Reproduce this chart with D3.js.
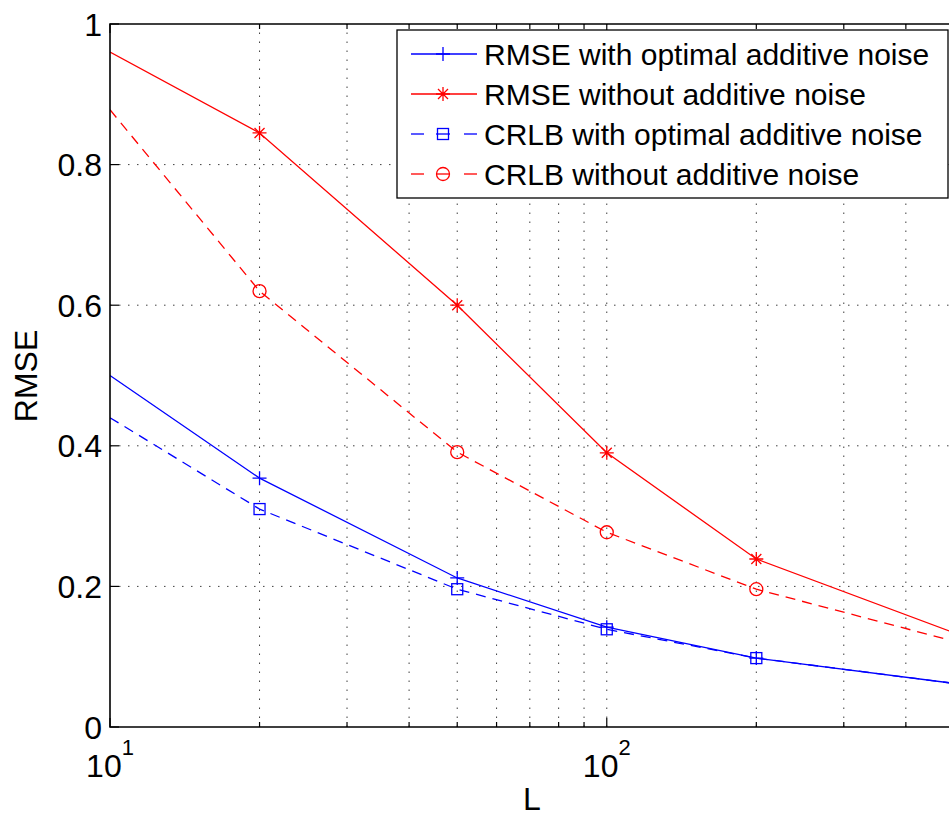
<!DOCTYPE html>
<html>
<head>
<meta charset="utf-8">
<script src="https://cdn.jsdelivr.net/npm/d3@7/dist/d3.min.js"></script>
<style>
  body { margin: 0; background: #fff; }
  svg { display: block; font-family: "Liberation Sans", Arial, sans-serif; }
</style>
</head>
<body>
<svg id="chart" width="949" height="817"></svg>
<script>
// 数据
const L = [10, 20, 50, 100, 200, 500];
const rmseOpt = [0.500, 0.354, 0.212, 0.142, 0.098, 0.062];
const rmseNo = [0.960, 0.845, 0.600, 0.390, 0.239, 0.134];
const crlbOpt = [0.440, 0.310, 0.196, 0.139, 0.098, 0.062];
const crlbNo = [0.878, 0.620, 0.391, 0.277, 0.196, 0.122];
const yTicks = [0, 0.2, 0.4, 0.6, 0.8, 1];
const xMajor = [10, 100];
const xMinor = [20, 30, 40, 50, 60, 70, 80, 90, 200, 300, 400];

const series = [
  { name: "RMSE with optimal additive noise", values: rmseOpt, color: "#0000ff", dash: null, marker: "plus" },
  { name: "RMSE without additive noise", values: rmseNo, color: "#ff0000", dash: null, marker: "star" },
  { name: "CRLB with optimal additive noise", values: crlbOpt, color: "#0000ff", dash: "10,7", marker: "square" },
  { name: "CRLB without additive noise", values: crlbNo, color: "#ff0000", dash: "10,7", marker: "circle" }
];

const svg = d3.select("#chart");
const pL = 110, pR = 954, pT = 24, pB = 727;

const x = d3.scaleLog().domain([10, 500]).range([pL, pR]);
const y = d3.scaleLinear().domain([0, 1]).range([pB, pT]);

svg.append("defs").append("clipPath").attr("id", "clip")
  .append("rect").attr("x", pL).attr("y", pT).attr("width", pR - pL).attr("height", pB - pT);

// 网格
const grid = svg.append("g").attr("stroke", "#000").attr("stroke-width", 1)
  .attr("stroke-dasharray", "1.5,7.5").attr("opacity", 0.75);
grid.selectAll(".gx").data(xMinor.concat([100])).enter().append("line")
  .attr("x1", d => x(d)).attr("x2", d => x(d)).attr("y1", pB).attr("y2", pT);
grid.selectAll(".gy").data(yTicks.slice(1, -1)).enter().append("line")
  .attr("x1", pL).attr("x2", 949).attr("y1", d => y(d)).attr("y2", d => y(d));

// 刻度
const ticks = svg.append("g").attr("stroke", "#000").attr("stroke-width", 1.2);
[pB, pT].forEach(edge => {
  const dir = edge === pB ? -1 : 1;
  ticks.selectAll(null).data(xMajor).enter().append("line")
    .attr("x1", d => x(d)).attr("x2", d => x(d)).attr("y1", edge).attr("y2", edge + dir * 9);
  ticks.selectAll(null).data(xMinor).enter().append("line")
    .attr("x1", d => x(d)).attr("x2", d => x(d)).attr("y1", edge).attr("y2", edge + dir * 5);
});
ticks.selectAll(null).data(yTicks).enter().append("line")
  .attr("x1", pL).attr("x2", pL + 9).attr("y1", d => y(d)).attr("y2", d => y(d));

// 曲线
const line = d3.line().x((d, i) => x(L[i])).y(d => y(d));
const plot = svg.append("g").attr("clip-path", "url(#clip)");

function drawMarker(g, type, cx, cy, color) {
  if (type === "plus") {
    g.append("path").attr("d", `M${cx - 7},${cy}H${cx + 7}M${cx},${cy - 7}V${cy + 7}`)
      .attr("stroke", color).attr("stroke-width", 1.3).attr("fill", "none");
  } else if (type === "star") {
    g.append("path").attr("d", `M${cx - 7},${cy}H${cx + 7}M${cx},${cy - 7}V${cy + 7}M${cx - 5},${cy - 5}L${cx + 5},${cy + 5}M${cx - 5},${cy + 5}L${cx + 5},${cy - 5}`)
      .attr("stroke", color).attr("stroke-width", 1.3).attr("fill", "none");
  } else if (type === "square") {
    g.append("rect").attr("x", cx - 5.5).attr("y", cy - 5.5).attr("width", 11).attr("height", 11)
      .attr("stroke", color).attr("stroke-width", 1.3).attr("fill", "none");
  } else {
    g.append("circle").attr("cx", cx).attr("cy", cy).attr("r", 6.5)
      .attr("stroke", color).attr("stroke-width", 1.3).attr("fill", "none");
  }
}

series.forEach(s => {
  plot.append("path").datum(s.values).attr("d", line)
    .attr("fill", "none").attr("stroke", s.color).attr("stroke-width", 1.3)
    .attr("stroke-dasharray", s.dash);
  // 端点处不画标记（参考图在边界上没有标记）
  s.values.forEach((v, i) => {
    if (i > 0 && i < L.length - 1) drawMarker(plot, s.marker, x(L[i]), y(v), s.color);
  });
});

// 坐标框
svg.append("path").attr("d", `M949,${pT}H${pL}V${pB}H949`)
  .attr("fill", "none").attr("stroke", "#000").attr("stroke-width", 1.6);

// 刻度标签
svg.selectAll(".yl").data(yTicks).enter().append("text")
  .attr("x", 102).attr("y", d => y(d)).attr("dy", "0.36em")
  .attr("text-anchor", "end").attr("font-size", 32).text(d => d);

xMajor.forEach(d => {
  const t = svg.append("text").attr("x", x(d)).attr("y", 777)
    .attr("text-anchor", "middle").attr("font-size", 32);
  t.append("tspan").text("10");
  t.append("tspan").attr("font-size", 22).attr("dy", -22).text(Math.round(Math.log10(d)));
});

svg.append("text").attr("x", 532).attr("y", 810).attr("text-anchor", "middle")
  .attr("font-size", 32).text("L");
svg.append("text").attr("transform", "translate(37,376) rotate(-90)")
  .attr("text-anchor", "middle").attr("font-size", 32).text("RMSE");

// 图例
const lg = svg.append("g");
lg.append("rect").attr("x", 397).attr("y", 30).attr("width", 551).attr("height", 168)
  .attr("fill", "#fff").attr("stroke", "#000").attr("stroke-width", 1.3);
series.forEach((s, i) => {
  const cy = 54 + i * 40;
  if (s.dash) {
    lg.append("line").attr("x1", 411).attr("x2", 424).attr("y1", cy).attr("y2", cy)
      .attr("stroke", s.color).attr("stroke-width", 1.3);
    lg.append("line").attr("x1", 464).attr("x2", 477).attr("y1", cy).attr("y2", cy)
      .attr("stroke", s.color).attr("stroke-width", 1.3);
    lg.append("line").attr("x1", 436).attr("x2", 450).attr("y1", cy).attr("y2", cy)
      .attr("stroke", s.color).attr("stroke-width", 1.3);
  } else {
    lg.append("line").attr("x1", 411).attr("x2", 477).attr("y1", cy).attr("y2", cy)
      .attr("stroke", s.color).attr("stroke-width", 1.3);
  }
  drawMarker(lg, s.marker, 443, cy, s.color);
  lg.append("text").attr("x", 484).attr("y", cy).attr("dy", "0.36em")
    .attr("font-size", 30).text(s.name);
});
</script>
</body>
</html>
